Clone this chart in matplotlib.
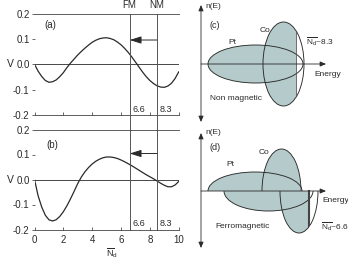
import matplotlib
matplotlib.use("Agg")
import matplotlib.pyplot as plt
from matplotlib.patches import Ellipse, Arc, Rectangle

plt.rcParams['font.family'] = ['Liberation Sans', 'DejaVu Sans']
plt.rcParams['mathtext.fontset'] = 'custom'
plt.rcParams['mathtext.rm'] = 'Liberation Sans'
plt.rcParams['mathtext.it'] = 'Liberation Sans:italic'
plt.rcParams['axes.unicode_minus'] = False

# valence-band filling N_d and potential V
n_d = [0, 0.25, 0.5, 0.75, 1, 1.25, 1.5, 1.75, 2, 2.25, 2.5, 2.75, 3, 3.25, 3.5, 3.75,
       4, 4.25, 4.5, 4.75, 5, 5.25, 5.5, 5.75, 6, 6.25, 6.5, 6.75, 7, 7.25, 7.5, 7.75,
       8, 8.25, 8.5, 8.75, 9, 9.25, 9.5, 9.75, 10]
v_a = [0.0, -0.027, -0.048, -0.064, -0.071, -0.069, -0.062, -0.049, -0.033, -0.013,
       0.005, 0.021, 0.037, 0.051, 0.064, 0.076, 0.087, 0.095, 0.101, 0.104, 0.105,
       0.102, 0.097, 0.088, 0.077, 0.063, 0.047, 0.029, 0.009, -0.011, -0.031, -0.049,
       -0.064, -0.076, -0.085, -0.090, -0.091, -0.086, -0.075, -0.056, -0.030]
v_b = [0.0, -0.065, -0.110, -0.143, -0.161, -0.166, -0.161, -0.148, -0.129, -0.105,
       -0.077, -0.047, -0.016, 0.010, 0.031, 0.048, 0.062, 0.073, 0.081, 0.087, 0.090,
       0.090, 0.088, 0.084, 0.078, 0.071, 0.063, 0.055, 0.046, 0.037, 0.028, 0.019,
       0.011, 0.003, -0.006, -0.015, -0.023, -0.029, -0.029, -0.022, -0.008]

v_ticks = [0.2, 0.1, 0.0, -0.1, -0.2]
v_tick_labels = ["0.2", "0.1", "0.0", "-0.1", "-0.2"]
n_ticks = [0, 2, 4, 6, 8, 10]

marker_x = [6.6, 8.5]          # where the FM / NM lines sit in the picture
marker_top = ["FM", "NM"]
marker_val = ["6.6", "8.3"]
arrow_y = [0.096, 0.104]
panel_tag = ["(a)", "(b)"]
tag_pos = [(0.7, 0.155), (0.8, 0.139)]

# schematic densities of states: centre, half width, half height
c_center = [54.5, 82.5]
c_hw = [47.5, 20.5]
c_hh = [19, 42]
c_fermi = 95

d_up_center = [54, 80.5]
d_up_hw = [47, 19.5]
d_up_hh = [19, 42]
d_dn_center = [67.5, 98]
d_dn_hw = [44.5, 19]
d_dn_hh = [20, 42]
d_fermi_up = 99
d_fermi_dn = 108

fill_col = "#b5caca"
ink = "#2a2a2a"

fig = plt.figure(figsize=(3.48, 2.6), dpi=100)
W, H = 348.0, 260.0

axa = fig.add_axes([34.5 / W, 1 - 114.9 / H, 144.2 / W, 101.2 / H])
axb = fig.add_axes([34.5 / W, 1 - 229.5 / H, 144.2 / W, 100.0 / H])

for i, (ax, v) in enumerate(zip([axa, axb], [v_a, v_b])):
    ax.patch.set_alpha(0)
    ax.set_xlim(0, 10)
    ax.set_ylim(-0.2, 0.2)
    ax.axhline(0, color=ink, lw=0.6)
    ax.plot(n_d, v, color=ink, lw=0.9)
    ax.set_yticks(v_ticks)
    ax.set_yticklabels(v_tick_labels, fontsize=7, color=ink)
    ax.set_xticks(n_ticks)
    ax.tick_params(axis='x', direction='in', length=2.5, width=0.5, pad=4, colors=ink, labelsize=7)
    ax.tick_params(axis='y', direction='out', length=2, width=0.5, pad=1.5, colors=ink)
    for s in ['left', 'right']:
        ax.spines[s].set_visible(False)
    for s in ['top', 'bottom']:
        ax.spines[s].set_linewidth(0.6)
        ax.spines[s].set_color("#444444")
    ax.annotate('', xy=(marker_x[0], arrow_y[i]), xytext=(marker_x[1], arrow_y[i]),
                arrowprops=dict(arrowstyle='-|>,head_length=0.7,head_width=0.22',
                                color=ink, lw=0.7, shrinkA=0, shrinkB=0))
    for xv, lab in zip(marker_x, marker_val):
        ax.text(xv + 0.18, -0.196, lab, fontsize=6.5, color=ink, ha='left', va='bottom')
    ax.text(tag_pos[i][0], tag_pos[i][1], panel_tag[i], fontsize=7, color=ink, va='center')

axa.set_xticklabels([])

# FM / NM lines run through both panels
top_a = axa.get_position().y1
pb = axb.get_position()
ymax = (top_a - pb.y0) / pb.height
for xv, lab in zip(marker_x, marker_top):
    axb.axvline(xv, ymin=0, ymax=ymax, clip_on=False, color="#555555", lw=0.7)
    axa.text(xv, 0.234, lab, fontsize=7, color=ink, ha='center', va='center')

fig.text(10 / W, 1 - 64 / H, "V", fontsize=7.5, color=ink, ha='center', va='center')
fig.text(10 / W, 1 - 180 / H, "V", fontsize=7.5, color=ink, ha='center', va='center')
fig.text(112 / W, 1 - 253 / H, r'$\overline{\mathrm{N}}_{\mathrm{d}}$', fontsize=6.5,
         color=ink, ha='center', va='center')

arrow_small = dict(color=ink, lw=0.6, shrinkA=0, shrinkB=0)

# ---- schematic (c): non magnetic
axc = fig.add_axes([196 / W, 1 - 126 / H, 148 / W, 126 / H])
axc.set_xlim(-5, 143)
axc.set_ylim(-62, 64)
axc.axis('off')

clip_c = Rectangle((-5, -62), 5 + c_fermi, 126, transform=axc.transData)
co_c = None
for cx, hw, hh in zip(c_center, c_hw, c_hh):
    e = Ellipse((cx, 0), 2 * hw, 2 * hh, facecolor=fill_col, edgecolor='none')
    axc.add_patch(e)
    e.set_clip_path(clip_c)
for cx, hw, hh in zip(c_center, c_hw, c_hh):
    co_c = Ellipse((cx, 0), 2 * hw, 2 * hh, fill=False, edgecolor=ink, lw=0.65)
    axc.add_patch(co_c)
ln = axc.plot([c_fermi, c_fermi], [-c_hh[1], c_hh[1]], color="#555555", lw=0.6)[0]
ln.set_clip_path(co_c)

axc.annotate('', xy=(0, 59), xytext=(0, -58),
             arrowprops=dict(arrowstyle='<|-|>,head_length=0.35,head_width=0.15', **arrow_small))
axc.annotate('', xy=(125, 0), xytext=(0, 0),
             arrowprops=dict(arrowstyle='-|>,head_length=0.35,head_width=0.15', **arrow_small))
axc.text(4, 58, "n(E)", fontsize=6, color=ink, va='center')
axc.text(8, 39, "(c)", fontsize=6.5, color=ink, va='center')
axc.text(31, 22, "Pt", fontsize=6, color=ink, ha='center', va='center')
axc.text(64, 34, "Co", fontsize=6, color=ink, ha='center', va='center')
axc.text(105, 22, r'$\overline{\mathrm{N}_{\mathrm{d}}}$~8.3', fontsize=6, color=ink, va='center')
axc.text(113, -10, "Energy", fontsize=6, color=ink, va='center')
axc.text(9, -35, "Non magnetic", fontsize=6, color=ink, va='center')

# ---- schematic (d): ferromagnetic
axd = fig.add_axes([196 / W, 0, 148 / W, 134 / H])
axd.set_xlim(-5, 143)
axd.set_ylim(-69, 65)
axd.axis('off')

clip_up = Rectangle((-5, 0), 5 + d_fermi_up, 65, transform=axd.transData)
clip_dn = Rectangle((-5, -69), 5 + d_fermi_dn, 69, transform=axd.transData)
for cx, hw, hh in zip(d_up_center, d_up_hw, d_up_hh):
    e = Ellipse((cx, 0), 2 * hw, 2 * hh, facecolor=fill_col, edgecolor='none')
    axd.add_patch(e)
    e.set_clip_path(clip_up)
for cx, hw, hh in zip(d_dn_center, d_dn_hw, d_dn_hh):
    e = Ellipse((cx, 0), 2 * hw, 2 * hh, facecolor=fill_col, edgecolor='none')
    axd.add_patch(e)
    e.set_clip_path(clip_dn)
for cx, hw, hh in zip(d_up_center, d_up_hw, d_up_hh):
    axd.add_patch(Arc((cx, 0), 2 * hw, 2 * hh, theta1=0, theta2=180, color=ink, lw=0.65))
for cx, hw, hh in zip(d_dn_center, d_dn_hw, d_dn_hh):
    axd.add_patch(Arc((cx, 0), 2 * hw, 2 * hh, theta1=180, theta2=360, color=ink, lw=0.65))
co_dn = Ellipse((d_dn_center[1], 0), 2 * d_dn_hw[1], 2 * d_dn_hh[1], transform=axd.transData)
ln = axd.plot([d_fermi_dn, d_fermi_dn], [0, -d_dn_hh[1]], color="#444444", lw=1.5)[0]
ln.set_clip_path(co_dn)

axd.annotate('', xy=(0, 58), xytext=(0, -57),
             arrowprops=dict(arrowstyle='<|-|>,head_length=0.35,head_width=0.15', **arrow_small))
axd.annotate('', xy=(125, 0), xytext=(0, 0),
             arrowprops=dict(arrowstyle='-|>,head_length=0.35,head_width=0.15', **arrow_small))
axd.text(4, 58, "n(E)", fontsize=6, color=ink, va='center')
axd.text(9, 43, "(d)", fontsize=6.5, color=ink, va='center')
axd.text(29, 26, "Pt", fontsize=6, color=ink, ha='center', va='center')
axd.text(63, 38, "Co", fontsize=6, color=ink, ha='center', va='center')
axd.text(121, -9, "Energy", fontsize=6, color=ink, va='center')
axd.text(14, -36, "Ferromagnetic", fontsize=6, color=ink, va='center')
axd.text(120, -36, r'$\overline{\mathrm{N}_{\mathrm{d}}}$~6.6', fontsize=6, color=ink, va='center')

fig.savefig("out.png", dpi=100)
